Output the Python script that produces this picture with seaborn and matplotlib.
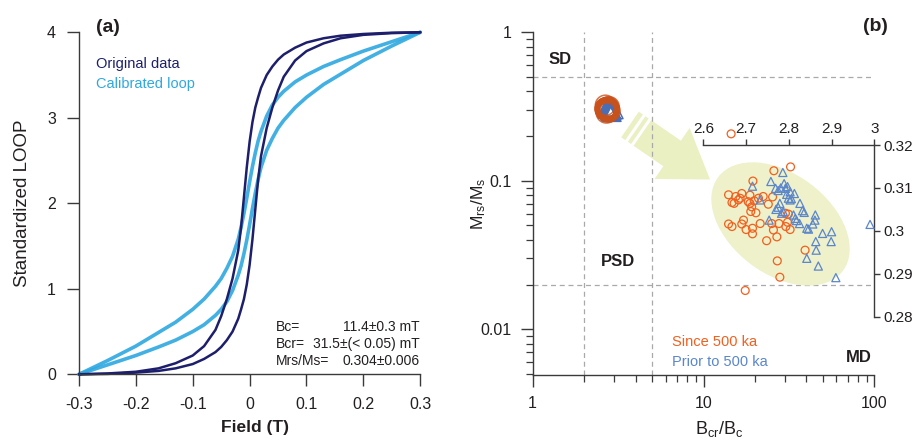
import numpy as np
import matplotlib
matplotlib.use("Agg")
import matplotlib.pyplot as plt
import matplotlib.ticker as mticker
import matplotlib.transforms as mtransforms
from matplotlib.patches import FancyArrow, Ellipse
from matplotlib.lines import Line2D
import seaborn as sns

sns.set_style("ticks")
plt.rcParams["font.family"] = ["Liberation Sans", "DejaVu Sans"]
plt.rcParams["mathtext.default"] = "regular"
plt.rcParams["axes.unicode_minus"] = False

# ---------------- (a) standardized hysteresis loops ----------------
field = [-0.3, -0.25, -0.2, -0.16, -0.13, -0.1, -0.08, -0.06, -0.05, -0.04,
         -0.03, -0.02, -0.015, -0.01, -0.005, 0.0, 0.005, 0.01, 0.015, 0.02,
         0.03, 0.04, 0.05, 0.06, 0.08, 0.1, 0.13, 0.16, 0.2, 0.25, 0.3]
orig_upper = [0.00, 0.01, 0.03, 0.07, 0.13, 0.22, 0.33, 0.52, 0.68, 0.88,
              1.12, 1.45, 1.72, 2.07, 2.42, 2.72, 2.95, 3.12, 3.24, 3.35,
              3.50, 3.60, 3.68, 3.74, 3.82, 3.88, 3.93, 3.96, 3.98, 3.995, 4.00]
orig_lower = [0.00, 0.005, 0.02, 0.04, 0.07, 0.12, 0.18, 0.26, 0.32, 0.40,
              0.50, 0.65, 0.76, 0.88, 1.05, 1.28, 1.58, 1.93, 2.28, 2.55,
              2.88, 3.12, 3.32, 3.48, 3.67, 3.78, 3.87, 3.93, 3.97, 3.99, 4.00]
calib_upper = [0.00, 0.16, 0.33, 0.49, 0.61, 0.76, 0.88, 1.03, 1.12, 1.24,
               1.38, 1.58, 1.72, 1.88, 2.06, 2.25, 2.43, 2.59, 2.73, 2.84,
               3.02, 3.15, 3.24, 3.31, 3.42, 3.50, 3.60, 3.68, 3.78, 3.89, 4.00]
calib_lower = [0.00, 0.11, 0.22, 0.32, 0.40, 0.50, 0.58, 0.69, 0.76, 0.85,
               0.98, 1.16, 1.27, 1.41, 1.57, 1.75, 1.94, 2.12, 2.28, 2.42,
               2.62, 2.76, 2.88, 2.97, 3.12, 3.24, 3.39, 3.51, 3.67, 3.84, 4.00]

field_ticks = [-0.3, -0.2, -0.1, 0, 0.1, 0.2, 0.3]
field_tick_labels = ["-0.3", "-0.2", "-0.1", "0", "0.1", "0.2", "0.3"]
loop_ticks = [0, 1, 2, 3, 4]
stat_names = ["Bc=", "Bcr=", "Mrs/Ms="]
stat_values = ["11.4\u00b10.3 mT", "31.5\u00b1(< 0.05) mT", "0.304\u00b10.006"]

# ---------------- (b) Day plot ----------------
since_bcr_bc = [2.665, 2.765, 2.804, 2.716, 2.659, 2.667, 2.672, 2.686, 2.690,
                2.682, 2.709, 2.709, 2.719, 2.729, 2.740, 2.752, 2.762, 2.711,
                2.723, 2.694, 2.690, 2.659, 2.667, 2.700, 2.715, 2.715, 2.733,
                2.748, 2.760, 2.764, 2.772, 2.777, 2.792, 2.799, 2.793, 2.803,
                2.838, 2.773, 2.779, 2.698, 2.705, 2.713, 2.676, 2.797]
since_mrs_ms = [0.3226, 0.3140, 0.3149, 0.3116, 0.3084, 0.3066, 0.3064, 0.3076,
                0.3087, 0.3072, 0.3083, 0.3064, 0.3070, 0.3076, 0.3080, 0.3062,
                0.3079, 0.3045, 0.3042, 0.3025, 0.3016, 0.3016, 0.3010, 0.3003,
                0.3006, 0.2993, 0.3017, 0.2977, 0.3017, 0.3002, 0.2986, 0.3017,
                0.3041, 0.3039, 0.3010, 0.3003, 0.2955, 0.2930, 0.2892, 0.2861,
                0.3068, 0.3056, 0.3080, 0.3020]
prior_bcr_bc = [2.786, 2.715, 2.758, 2.769, 2.775, 2.792, 2.797, 2.803, 2.813,
                2.779, 2.775, 2.799, 2.803, 2.826, 2.832, 2.836, 2.733, 2.754,
                2.783, 2.811, 2.818, 2.825, 2.842, 2.846, 2.862, 2.861, 2.856,
                2.879, 2.900, 2.863, 2.899, 2.864, 2.842, 2.869, 2.910, 2.990,
                2.806, 2.815, 2.789, 2.781, 2.795, 2.770, 2.787]
prior_mrs_ms = [0.3136, 0.3104, 0.3115, 0.3099, 0.3094, 0.3099, 0.3103, 0.3091,
                0.3087, 0.3064, 0.3055, 0.3076, 0.3072, 0.3064, 0.3047, 0.3043,
                0.3072, 0.3025, 0.3041, 0.3037, 0.3024, 0.3017, 0.3006, 0.3004,
                0.3037, 0.3025, 0.3016, 0.2994, 0.2998, 0.2975, 0.2975, 0.2955,
                0.2936, 0.2918, 0.2891, 0.3015, 0.3075, 0.3029, 0.3110, 0.3100,
                0.3085, 0.3050, 0.3045]

domain_bcr_bc = [2, 5]          # SD/PSD and PSD/MD boundaries
domain_mrs_ms = [0.5, 0.02]
inset_x_ticks = [2.6, 2.7, 2.8, 2.9, 3.0]
inset_x_labels = ["2.6", "2.7", "2.8", "2.9", "3"]
inset_y_ticks = [0.28, 0.29, 0.30, 0.31, 0.32]
inset_y_labels = ["0.28", "0.29", "0.3", "0.31", "0.32"]

NAVY = "#1d1f6c"
SKY = "#2ea8e0"
ORANGE = "#f2601f"
ORANGE_DARK = "#c9521c"
BLUE = "#5b86cc"
BLUE_DARK = "#4a6db3"
PALE = "#ebf0c2"
GRID = "#a9a9a9"
INK = "#231f20"
SPINE = "#3a3a3a"

fig = plt.figure(figsize=(9.14, 4.41), dpi=100)
fig.patch.set_facecolor("white")


def style_axes(ax, size=11.5):
    for s in ("top", "right"):
        ax.spines[s].set_visible(False)
    for s in ("left", "bottom"):
        ax.spines[s].set_color(SPINE)
        ax.spines[s].set_linewidth(1.0)
    ax.tick_params(which="major", direction="out", length=8.5, width=1.0,
                   color=SPINE, labelsize=size, labelcolor=INK)
    ax.tick_params(which="minor", direction="out", length=5, width=0.9,
                   color=SPINE)


# ---------- panel (a) ----------
ax_a = fig.add_axes([0.0864, 0.1512, 0.3734, 0.7756])
ax_a.set_facecolor("none")
for branch in (calib_upper, calib_lower):
    sns.lineplot(x=field, y=branch, ax=ax_a, color=SKY, lw=2.6, alpha=0.9,
                 estimator=None, sort=False)
for branch in (orig_upper, orig_lower):
    sns.lineplot(x=field, y=branch, ax=ax_a, color=NAVY, lw=1.8,
                 estimator=None, sort=False)
ax_a.set_xlim(-0.3, 0.3)
ax_a.set_ylim(0, 4)
style_axes(ax_a)
ax_a.tick_params(axis="both", pad=8)
ax_a.set_xticks(field_ticks)
ax_a.set_xticklabels(field_tick_labels)
ax_a.set_yticks(loop_ticks)
ax_a.set_xlabel("Field (T)", fontsize=12.5, fontweight="bold", color=INK)
ax_a.set_ylabel("Standardized LOOP", fontsize=13.5, color=INK)
ax_a.xaxis.set_label_coords(0.515, -0.135)
ax_a.yaxis.set_label_coords(-0.142, 0.5)
for ln in ax_a.lines:
    ln.set_clip_on(False)

ax_a.text(-0.270, 4.06, "(a)", fontsize=14, fontweight="bold", color=INK,
          ha="left", va="center")
ax_a.text(-0.270, 3.63, "Original data", fontsize=10.5, color=NAVY,
          ha="left", va="center")
ax_a.text(-0.270, 3.40, "Calibrated loop", fontsize=10.5, color=SKY,
          ha="left", va="center")
for i, (name, val) in enumerate(zip(stat_names, stat_values)):
    yy = 0.553 - i * 0.200
    ax_a.text(0.0463, yy, name, fontsize=10, color=INK, ha="left", va="center")
    ax_a.text(0.2995, yy, val, fontsize=10, color=INK, ha="right", va="center")

# ---------- panel (b) ----------
ax_b = fig.add_axes([0.5828, 0.1497, 0.3738, 0.7771])
ax_b.set_facecolor("none")
ax_b.set_xscale("log")
ax_b.set_yscale("log")

for xv in domain_bcr_bc:
    ax_b.axvline(xv, color=GRID, lw=0.9, ls=(0, (4, 3)), zorder=1)
for yv in domain_mrs_ms:
    ax_b.axhline(yv, color=GRID, lw=0.9, ls=(0, (4, 3)), zorder=1)

sns.scatterplot(x=prior_bcr_bc, y=prior_mrs_ms, ax=ax_b, marker="^",
                facecolor="none", edgecolor=BLUE_DARK, s=170, linewidth=1.1,
                zorder=3)
sns.scatterplot(x=since_bcr_bc, y=since_mrs_ms, ax=ax_b, marker="o",
                facecolor="none", edgecolor=ORANGE_DARK, s=210, linewidth=1.1,
                alpha=0.8, zorder=4)

ax_b.set_xlim(1, 100)
ax_b.set_ylim(0.00492, 1)
style_axes(ax_b)
ax_b.tick_params(axis="y", which="major", pad=7)
ax_b.tick_params(axis="x", which="major", pad=6.5)
fmt = mticker.FuncFormatter(lambda v, p: f"{v:g}")
ax_b.xaxis.set_major_formatter(fmt)
ax_b.yaxis.set_major_formatter(fmt)
ax_b.xaxis.set_minor_formatter(mticker.NullFormatter())
ax_b.yaxis.set_minor_formatter(mticker.NullFormatter())
ax_b.set_xlabel("B$_{cr}$/B$_{c}$", fontsize=13, color=INK)
ax_b.set_ylabel("M$_{rs}$/M$_{s}$", fontsize=12.5, color=INK)
ax_b.xaxis.set_label_coords(0.545, -0.128)
ax_b.yaxis.set_label_coords(-0.132, 0.5)

ax_b.text(1.45, 0.658, "SD", fontsize=12, fontweight="bold", color=INK,
          ha="center", va="center")
ax_b.text(3.17, 0.0285, "PSD", fontsize=12, fontweight="bold", color=INK,
          ha="center", va="center")
ax_b.text(81.3, 0.00645, "MD", fontsize=12, fontweight="bold", color=INK,
          ha="center", va="center")
ax_b.text(1.003, 1.016, "(b)", transform=ax_b.transAxes, fontsize=14,
          fontweight="bold", color=INK, ha="center", va="center")
ax_b.text(6.57, 0.00821, "Since 500 ka", fontsize=10.5, color=ORANGE,
          ha="left", va="center")
ax_b.text(6.57, 0.00605, "Prior to 500 ka", fontsize=10.5, color=BLUE,
          ha="left", va="center")

# zoom arrow from the cluster towards the enlarged view (figure inches)
inch = fig.dpi_scale_trans
tail = np.array([6.30, 3.165])
tip = np.array([7.10, 2.615])
vec = tip - tail
arrow = FancyArrow(tail[0], tail[1], vec[0], vec[1], width=0.31,
                   head_width=0.62, head_length=0.46,
                   length_includes_head=True, transform=inch,
                   facecolor=PALE, edgecolor="none", lw=0, zorder=0.6,
                   clip_on=False)
ax_b.add_artist(arrow)
u = vec / np.hypot(*vec)
perp = np.array([u[1], -u[0]])
for s in (0.065, 0.135):
    c = tail + s * u
    p0, p1 = c - 0.18 * perp, c + 0.18 * perp
    ax_b.add_artist(Line2D([p0[0], p1[0]], [p0[1], p1[1]], transform=inch,
                           color="white", lw=2.2, solid_capstyle="butt",
                           zorder=0.7, clip_on=False))

# ---------- enlarged view ----------
ax_in = fig.add_axes([0.7695, 0.2819, 0.1871, 0.3893])
ax_in.set_facecolor("none")
ell = Ellipse((0, 0), width=1.56, height=1.0, angle=-37,
              facecolor="#eef1c9", edgecolor="none", zorder=0.5,
              transform=inch + mtransforms.ScaledTranslation(
                  2.7806, 0.3016, ax_in.transData),
              clip_on=False)
ax_in.add_artist(ell)
sns.scatterplot(x=since_bcr_bc, y=since_mrs_ms, ax=ax_in, marker="o",
                facecolor="none", edgecolor=ORANGE, s=32, linewidth=0.9,
                zorder=3, clip_on=False)
sns.scatterplot(x=prior_bcr_bc, y=prior_mrs_ms, ax=ax_in, marker="^",
                facecolor="none", edgecolor=BLUE, s=34, linewidth=0.9,
                zorder=4, clip_on=False)
ax_in.set_xlim(2.6, 3.0)
ax_in.set_ylim(0.28, 0.32)
for s in ("bottom", "left"):
    ax_in.spines[s].set_visible(False)
for s in ("top", "right"):
    ax_in.spines[s].set_visible(True)
    ax_in.spines[s].set_color(SPINE)
    ax_in.spines[s].set_linewidth(1.0)
ax_in.xaxis.tick_top()
ax_in.yaxis.tick_right()
ax_in.tick_params(direction="out", length=4, width=1.0, color=SPINE,
                  labelsize=11, labelcolor=INK, pad=2.5)
ax_in.set_xticks(inset_x_ticks)
ax_in.set_xticklabels(inset_x_labels)
ax_in.set_yticks(inset_y_ticks)
ax_in.set_yticklabels(inset_y_labels)
ax_in.set_xlabel("")
ax_in.set_ylabel("")

fig.savefig("out.png", dpi=100)
